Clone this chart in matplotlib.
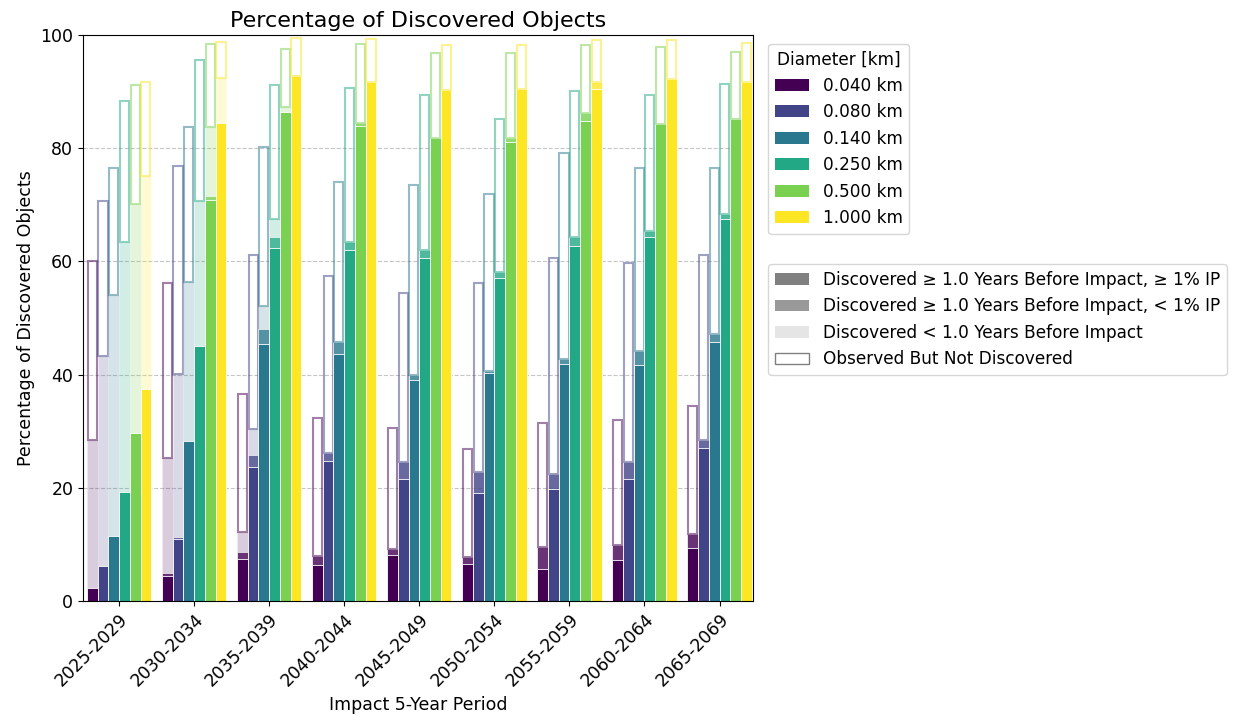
import numpy as np
import matplotlib
matplotlib.use("Agg")
from matplotlib import pyplot as plt
from matplotlib.patches import Patch

periods = ["2025-2029", "2030-2034", "2035-2039", "2040-2044", "2045-2049",
           "2050-2054", "2055-2059", "2060-2064", "2065-2069"]
diameters = [0.040, 0.080, 0.140, 0.250, 0.500, 1.000]

# rows = periods, columns = diameters, values in percent
disc_early_hi = [
    [2.2, 6.1, 11.5, 19.3, 29.7, 37.5],
    [4.4, 11.0, 28.2, 45.1, 70.9, 84.5],
    [7.4, 23.6, 45.4, 62.4, 86.5, 92.8],
    [6.3, 24.8, 43.6, 62.1, 84.0, 91.8],
    [8.1, 21.6, 39.0, 60.6, 81.9, 90.3],
    [6.6, 19.1, 40.2, 57.1, 81.1, 90.5],
    [5.6, 19.7, 41.8, 62.7, 84.8, 90.5],
    [7.3, 21.6, 41.7, 64.4, 84.3, 92.3],
    [9.4, 27.1, 45.8, 67.5, 85.1, 91.7],
]
disc_early_lo = [
    [0.0, 0.0, 0.0, 0.0, 0.0, 0.0],
    [0.5, 0.3, 0.0, 0.0, 0.7, 0.0],
    [1.3, 2.1, 2.6, 2.0, 0.0, 0.0],
    [1.6, 1.4, 2.1, 1.4, 0.4, 0.0],
    [1.1, 2.9, 0.9, 1.4, 0.0, 0.0],
    [1.1, 3.7, 0.4, 1.0, 0.8, 0.0],
    [3.9, 2.8, 0.9, 1.7, 1.5, 1.3],
    [2.5, 2.9, 2.5, 0.9, 0.0, 0.0],
    [2.4, 1.4, 1.3, 0.8, 0.0, 0.0],
]
disc_late = [
    [26.3, 37.1, 42.5, 44.1, 40.5, 37.6],
    [20.4, 28.8, 28.2, 25.5, 12.2, 7.9],
    [3.4, 4.6, 4.2, 3.1, 0.8, 0.0],
    [0.0, 0.0, 0.0, 0.0, 0.0, 0.0],
    [0.0, 0.0, 0.0, 0.0, 0.0, 0.0],
    [0.0, 0.0, 0.0, 0.0, 0.0, 0.0],
    [0.0, 0.0, 0.0, 0.0, 0.0, 0.0],
    [0.0, 0.0, 0.0, 0.0, 0.0, 0.0],
    [0.0, 0.0, 0.0, 0.0, 0.0, 0.0],
]
observed_only = [
    [31.5, 27.4, 22.6, 25.0, 21.0, 16.6],
    [30.9, 36.7, 27.4, 25.0, 14.6, 6.4],
    [24.5, 30.8, 28.1, 23.7, 10.2, 6.7],
    [24.5, 31.3, 28.3, 27.1, 14.1, 7.5],
    [21.4, 30.0, 33.6, 27.4, 15.0, 7.9],
    [19.2, 33.4, 31.4, 27.1, 14.9, 7.7],
    [21.9, 38.1, 36.5, 25.8, 12.0, 7.4],
    [22.1, 35.2, 32.4, 24.2, 13.6, 6.9],
    [22.6, 32.7, 29.4, 23.0, 12.0, 6.9],
]

plt.rcParams["font.size"] = 12.5
plt.rcParams["legend.fontsize"] = 12.2

s1 = np.array(disc_early_hi)
s2 = np.array(disc_early_lo)
s3 = np.array(disc_late)
s4 = np.array(observed_only)

colors = plt.cm.viridis(np.linspace(0, 1, len(diameters)))
x = np.arange(len(periods))
width = 0.143

fig = plt.figure(figsize=(12.39, 7.17), dpi=100)
ax = fig.add_axes([0.067, 0.162, 0.541, 0.789])

for j, c in enumerate(colors):
    xs = x + (j - 2.5) * width
    ax.bar(xs, s1[:, j], width, color=c, edgecolor="white", linewidth=0.6)
    ax.bar(xs, s2[:, j], width, bottom=s1[:, j], color=c, alpha=0.8,
           edgecolor="white", linewidth=0.6)
    ax.bar(xs, s3[:, j], width, bottom=s1[:, j] + s2[:, j], color=c, alpha=0.2,
           edgecolor="white", linewidth=0.6)
    c_edge = (c[0], c[1], c[2], 0.5)
    ax.bar(xs, s4[:, j], width * 0.85, bottom=s1[:, j] + s2[:, j] + s3[:, j],
           facecolor="none", edgecolor=c_edge, linewidth=1.5)

ax.set_ylim(0, 100)
ax.set_xlim(-0.48, 8.45)
ax.set_xticks(x)
ax.set_xticklabels(periods, rotation=45, ha="right", rotation_mode="anchor")
ax.yaxis.grid(True, linestyle="--", color="gray", alpha=0.45)
ax.set_axisbelow(True)
ax.set_title("Percentage of Discovered Objects", fontsize=16)
ax.set_ylabel("Percentage of Discovered Objects")
ax.set_xlabel("Impact 5-Year Period")

diam_handles = [Patch(facecolor=c, label=f"{d:.3f} km") for c, d in zip(colors, diameters)]
leg1 = ax.legend(handles=diam_handles, title="Diameter [km]", loc="upper left",
                 bbox_to_anchor=(1.01, 1.0), title_fontsize=12.2)
ax.add_artist(leg1)

cat_handles = [
    Patch(facecolor="gray", label="Discovered \u2265 1.0 Years Before Impact, \u2265 1% IP"),
    Patch(facecolor="gray", alpha=0.8, label="Discovered \u2265 1.0 Years Before Impact, < 1% IP"),
    Patch(facecolor="gray", alpha=0.2, label="Discovered < 1.0 Years Before Impact"),
    Patch(facecolor="none", edgecolor="gray", label="Observed But Not Discovered"),
]
ax.legend(handles=cat_handles, loc="upper left", bbox_to_anchor=(1.01, 0.61))

plt.savefig("out.png", dpi=100)
